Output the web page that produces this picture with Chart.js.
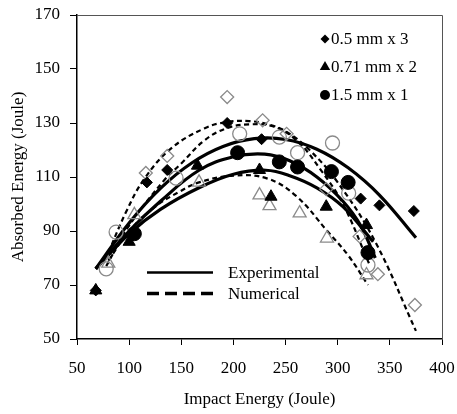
<!DOCTYPE html>
<html>
<head>
<meta charset="utf-8">
<script src="https://cdn.jsdelivr.net/npm/chart.js"></script>
<style>
  html, body { margin: 0; padding: 0; background: #fff; }
  #wrap { width: 457px; height: 414px; }
</style>
</head>
<body>
<div id="wrap"><canvas id="energy" width="457" height="414"></canvas></div>
<script>
// measured points [impact, absorbed] in Joule
const expThin = [[68, 68], [117, 108], [136.5, 112.6], [194, 130], [227, 124], [293, 112], [322, 102], [340, 99.5], [373, 97.4]];
const expMid = [[68, 68], [100, 86], [165.5, 114.2], [225, 112.6], [236, 102.7], [289, 99], [327.6, 92.2]];
const expThick = [[105, 89], [204, 119], [244, 115.6], [261.5, 113.7], [294, 112], [310, 108], [329, 82]];
const numThin = [[116, 111.5], [136.5, 117.8], [194, 139.6], [228, 131], [251, 126], [289, 105.5], [321, 88], [338.5, 74], [374, 62.6]];
const numMid = [[80, 78], [105, 96], [167, 108], [225, 103.3], [234.6, 99.3], [263.5, 96.6], [289.7, 87.3], [327.6, 73.7]];
const numThick = [[78, 76], [87.5, 89.6], [145, 109.6], [206, 126], [244, 124.8], [261.5, 119], [295, 122.6], [310.5, 104], [329, 77.4]];

// trend curves
const fitExpThin = [[68, 76], [100, 93], [130, 105.8], [160, 115.2], [190, 121.3], [220, 124.2], [250, 123.9], [280, 120.3], [310, 113.4], [340, 103.3], [375, 87.5]];
const fitExpThick = [[68, 76], [100, 90], [130, 101], [167, 112.5], [200, 117.5], [230, 118.5], [254, 116], [280, 110], [305, 101], [322, 92], [336, 80]];
const fitExpMid = [[68, 76], [100, 89], [130, 98], [167, 106], [200, 111], [231, 112.5], [254, 110.5], [280, 106], [305, 99], [334, 86]];
const fitNumThin = [[80, 82], [97, 97], [114, 109], [140, 120.5], [172, 128], [193, 130.3], [215, 130.7], [235, 129.3], [251, 126.7], [273, 120], [300, 108], [336, 86], [375, 53]];
const fitNumThick = [[78, 77], [100, 92], [134, 109], [150, 115], [172, 123.5], [193, 128], [215, 129.5], [240, 128.5], [262, 123], [283, 113], [305, 100], [330, 78]];
const fitNumMid = [[80, 79], [100, 90], [125, 99], [148, 104.5], [167, 108], [200, 110.5], [232, 109.5], [260, 103], [290, 90], [310, 81], [329, 70]];

const xTicks = [50, 100, 150, 200, 250, 300, 350, 400];
const yTicks = [50, 70, 90, 110, 130, 150, 170];
const seriesNames = ['0.5 mm x 3', '0.71 mm x 2', '1.5 mm x 1'];
const lineNames = ['Experimental', 'Numerical'];

const FONT = 'Liberation Serif';
const GREY = '#8a8a8a';
const toXY = arr => arr.map(p => ({ x: p[0], y: p[1] }));

function markers(data, style, radius, filled) {
  return {
    data: toXY(data),
    showLine: false,
    pointStyle: style,
    pointRadius: radius,
    pointBackgroundColor: filled ? '#000' : 'rgba(255,255,255,0)',
    pointBorderColor: filled ? '#000' : GREY,
    pointBorderWidth: filled ? 1 : 1.3
  };
}

function curve(data, dashed) {
  return {
    data: toXY(data),
    showLine: true,
    pointRadius: 0,
    borderColor: '#000',
    borderWidth: dashed ? 2.2 : 3.2,
    borderDash: dashed ? [5, 3.5] : [],
    tension: 0.4,
    fill: false
  };
}

function shape(ctx, style, x, y, r) {
  ctx.beginPath();
  if (style === 'circle') {
    ctx.arc(x, y, r, 0, Math.PI * 2);
  } else if (style === 'triangle') {
    ctx.moveTo(x, y - r);
    ctx.lineTo(x + r * 0.866, y + r * 0.5);
    ctx.lineTo(x - r * 0.866, y + r * 0.5);
  } else {
    ctx.moveTo(x, y - r);
    ctx.lineTo(x + r, y);
    ctx.lineTo(x, y + r);
    ctx.lineTo(x - r, y);
  }
  ctx.closePath();
  ctx.fill();
}

// keep the plot box fixed regardless of label overhang
function fixBox(width, height) {
  return s => {
    if (width) s.width = width;
    if (height) s.height = height;
    s.paddingLeft = 0;
    s.paddingRight = 0;
    s.paddingTop = 0;
    s.paddingBottom = 0;
  };
}

const keys = {
  id: 'keys',
  afterDraw(chart) {
    const ctx = chart.ctx;
    const area = chart.chartArea;
    ctx.save();
    // grey frame on the open sides
    ctx.strokeStyle = '#555';
    ctx.lineWidth = 1;
    ctx.beginPath();
    ctx.moveTo(area.left, area.top + 0.5);
    ctx.lineTo(area.right + 0.5, area.top + 0.5);
    ctx.lineTo(area.right + 0.5, area.bottom);
    ctx.stroke();

    // series key, upper right
    ctx.fillStyle = '#000';
    ctx.font = '17px ' + FONT;
    ctx.textBaseline = 'middle';
    const styles = ['rectRot', 'triangle', 'circle'];
    const sizes = [4.5, 6, 5];
    seriesNames.forEach((name, i) => {
      const y = 39 + i * 28;
      shape(ctx, styles[i], 325, y, sizes[i]);
      ctx.fillText(name, 331, y + 1);
    });

    // line key, lower middle
    ctx.strokeStyle = '#000';
    ctx.lineWidth = 2.5;
    ctx.beginPath();
    ctx.moveTo(147, 272.5);
    ctx.lineTo(213, 272.5);
    ctx.stroke();
    ctx.lineWidth = 3.5;
    ctx.setLineDash([12, 6]);
    ctx.beginPath();
    ctx.moveTo(147, 293.5);
    ctx.lineTo(213, 293.5);
    ctx.stroke();
    ctx.setLineDash([]);
    ctx.font = '17px ' + FONT;
    ctx.fillText(lineNames[0], 228, 274);
    ctx.fillText(lineNames[1], 228, 295);
    ctx.restore();
  }
};

new Chart(document.getElementById('energy'), {
  type: 'scatter',
  data: {
    datasets: [
      markers(expThin, 'rectRot', 5.5, true),
      markers(expMid, 'triangle', 7, true),
      markers(expThick, 'circle', 7, true),
      markers(numThin, 'rectRot', 6.5, false),
      markers(numMid, 'triangle', 7.5, false),
      markers(numThick, 'circle', 7, false),
      curve(fitExpThin, false),
      curve(fitExpThick, false),
      curve(fitExpMid, false),
      curve(fitNumThin, true),
      curve(fitNumThick, true),
      curve(fitNumMid, true)
    ]
  },
  options: {
    responsive: false,
    animation: false,
    layout: { padding: { left: 0, right: 15, top: 15, bottom: 0 } },
    plugins: { legend: { display: false }, tooltip: { enabled: false } },
    scales: {
      x: {
        type: 'linear',
        min: xTicks[0],
        max: xTicks[xTicks.length - 1],
        afterBuildTicks: s => { s.ticks = xTicks.map(v => ({ value: v })); },
        afterFit: fixBox(0, 75),
        ticks: { color: '#000', font: { family: FONT, size: 17 }, padding: 13 },
        grid: { drawOnChartArea: false, drawTicks: true, tickLength: 6, color: '#000' },
        border: { display: true, color: '#000', width: 1.5 },
        title: { display: true, text: 'Impact Energy (Joule)', color: '#000', font: { family: FONT, size: 17 }, padding: { top: 0, bottom: 4 } }
      },
      y: {
        type: 'linear',
        min: yTicks[0],
        max: yTicks[yTicks.length - 1],
        afterBuildTicks: s => { s.ticks = yTicks.map(v => ({ value: v })); },
        afterFit: fixBox(77, 0),
        ticks: { color: '#000', font: { family: FONT, size: 17 }, padding: 10 },
        grid: { drawOnChartArea: false, drawTicks: true, tickLength: 7, color: '#000' },
        border: { display: true, color: '#000', width: 1.5 },
        title: { display: true, text: 'Absorbed Energy (Joule)', color: '#000', font: { family: FONT, size: 17 }, padding: { top: 8, bottom: 0 } }
      }
    }
  },
  plugins: [keys]
});
</script>
</body>
</html>
